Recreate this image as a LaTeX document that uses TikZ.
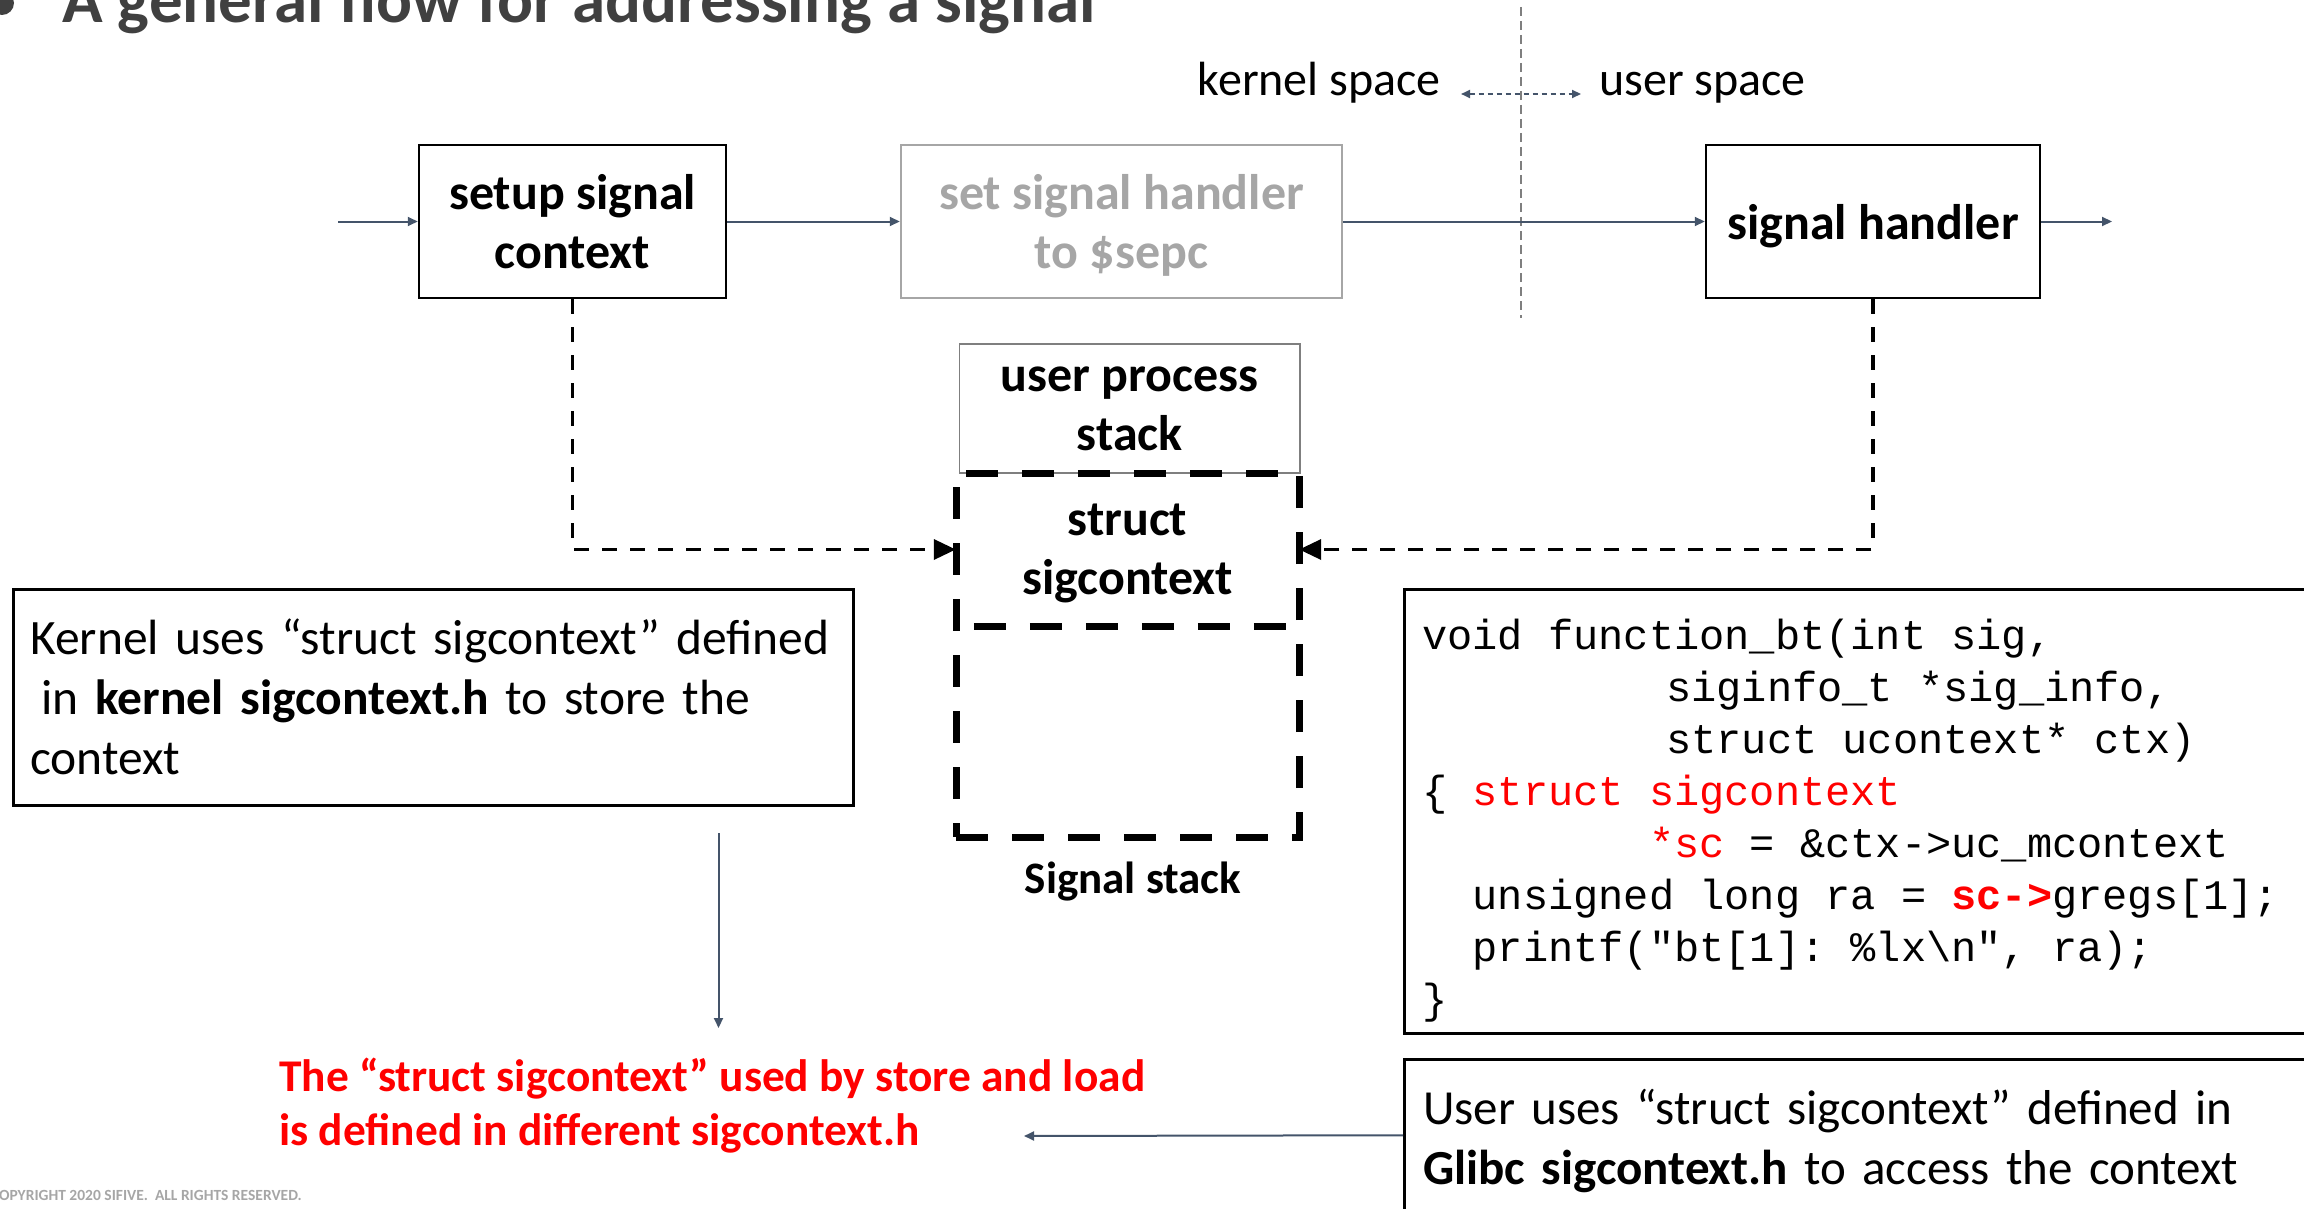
\documentclass[tikz,border=0pt]{standalone}
\usepackage{fontspec}
\setmainfont{Carlito}
\setmonofont{Liberation Mono}
\usetikzlibrary{arrows.meta}

\definecolor{conn}{HTML}{44546A}
\definecolor{titlegray}{HTML}{404040}
\definecolor{softgray}{HTML}{A6A6A6}
\definecolor{midgray}{HTML}{7F7F7F}
\definecolor{sigred}{HTML}{FF0000}

\newcommand\lblfont{\fontsize{50}{59}\selectfont\bfseries}
\newcommand\notefnt{\fontsize{49.5}{60}\selectfont}
\newcommand\usrfnt{\fontsize{49}{60}\selectfont}
\newcommand\codefnt{\fontsize{42}{52}\selectfont\ttfamily}
\newcommand\redfnt{\fontsize{45.4}{54.5}\selectfont\bfseries}
% one fixed-width blank in the code listing
\newcommand\csp{\hphantom{0}}

\tikzset{
  flow/.style={draw=conn, line width=2pt, -{Triangle[length=10pt,width=9pt]}},
  dconn/.style={draw=black, line width=3.5pt, dash pattern=on 15pt off 13pt,
    -{Triangle[length=22pt,width=20pt]}},
  blackbox/.style={draw=black, line width=2.5pt, inner sep=0pt, align=center, font=\lblfont},
  graybox/.style={draw=softgray, line width=2.5pt, inner sep=0pt, align=center, font=\lblfont, text=softgray},
  thickdash/.style={draw=black, line width=7pt, dash pattern=on 32pt off 24pt},
  notebox/.style={draw=black, line width=2.5pt, inner ysep=0pt, align=left, font=\notefnt},
  plainlbl/.style={font=\fontsize{48}{56}\selectfont, inner sep=0pt}
}

\begin{document}
\begin{tikzpicture}[x=1pt,y=-1pt]
\useasboundingbox (0,0) rectangle (2304,1209);

% heading with its bullet
\fill[titlegray] (2,3) circle[radius=12pt];
\node[anchor=base west, font=\fontsize{67}{70}\selectfont\bfseries, text=titlegray, inner sep=0pt]
  (title) at (62,23) {A general flow for addressing a signal};

% kernel / user space divider
\coordinate (divtop) at (1521,7);
\coordinate (divbot) at (1521,318);
\draw[midgray, line width=1.5pt, dash pattern=on 9pt off 5pt] (divtop) -- (divbot);
\node[plainlbl, anchor=base east] (kspace) at (1441,96) {kernel space};
\node[plainlbl, anchor=base west] (uspace) at (1599,96) {user space};
\draw[conn, line width=2pt, dash pattern=on 5pt off 4pt,
  {Triangle[length=9pt,width=8pt]}-{Triangle[length=9pt,width=8pt]}]
  ([xshift=20pt,yshift=2pt]kspace.base east) -- ([xshift=-18pt,yshift=2pt]uspace.base west);

% main flow
\node[blackbox, minimum width=307pt, minimum height=153pt, text depth=0pt] (setup) at (572.5,221.5) {setup signal\\context};
\node[graybox, minimum width=441pt, minimum height=153pt, text depth=0pt] (sethdl) at (1121.5,221.5) {set signal handler\\to \$sepc};
\node[blackbox, minimum width=334pt, minimum height=153pt, text depth=0pt] (sighdl) at (1873,221.5) {signal handler};

\coordinate (start) at (338,221.5);
\coordinate (finish) at (2112,221.5);
\draw[flow] (start) -- (setup);
\draw[flow] (setup) -- (sethdl);
\draw[flow] (sethdl) -- (sighdl);
\draw[flow] (sighdl) -- (finish);

% stacks
\node[draw=midgray, line width=1.8pt, minimum width=340.5pt, minimum height=129pt, inner sep=0pt,
  font=\lblfont, align=center] (uproc) at (1129.75,408.5) {user process\\stack};
\node[thickdash, minimum width=343pt, minimum height=364pt, inner sep=0pt] (sigstack) at (1127.5,655) {};
\node[minimum width=343pt, minimum height=153pt, inner sep=0pt, font=\lblfont, align=center, text depth=0pt]
  (sigctx) at (1127.5,549.5) {struct\\sigcontext};
\draw[thickdash] ([xshift=18pt]sigctx.south west) -- ([xshift=-12pt]sigctx.south east);
\node[font=\fontsize{45}{54}\selectfont\bfseries, inner sep=0pt] (sslbl) at (1133,882) {Signal stack};

\draw[dconn] (setup.south) |- (sigctx.west);
\draw[dconn] (sighdl.south) |- (sigctx.east);

% kernel side note
\node[notebox, anchor=north west, minimum width=840pt, minimum height=216pt, text width=806pt, inner xsep=17pt]
  (knote) at (12,588)
  {Kernel uses “struct sigcontext” defined\\\hspace*{0.226em}in \textbf{kernel sigcontext.h} to store the\\context};

\coordinate (kdowntop) at (718.5,833);
\coordinate (kdownbot) at (718.5,1028);
\draw[flow] (kdowntop) -- (kdownbot);

% conclusion
\node[anchor=west, font=\redfnt, text=sigred, align=left, inner sep=0pt] (rednote) at (279,1105.75)
  {The “struct sigcontext” used by store and load\\is defined in different sigcontext.h};

% user side code
\node[draw=black, line width=3pt, anchor=north west, minimum width=930pt, minimum height=443.5pt,
  inner sep=0pt] (code) at (1403,588) {};
\node[anchor=west, inner sep=0pt, align=left, font=\codefnt] (codetxt) at ([xshift=19pt,yshift=-9pt]code.west)
  {void\csp function\_bt(int\csp sig,\\
   \hspace*{244pt}siginfo\_t\csp *sig\_info,\\
   \hspace*{244pt}struct\csp ucontext*\csp ctx)\\
   \{\csp{\color{sigred}struct\csp sigcontext}\\
   \csp\csp\csp\csp\csp\csp\csp\csp\csp{\color{sigred}*sc}\csp=\csp\&ctx->uc\_mcontext\\
   \csp\csp unsigned\csp long\csp ra\csp=\csp{\color{sigred}\bfseries sc->}gregs[1];\\
   \csp\csp printf("bt[1]:\csp\%lx\textbackslash n",\csp ra);\\
   \}};

\node[notebox, font=\usrfnt, anchor=north west, minimum width=930pt, minimum height=163pt, text width=900pt, inner xsep=19pt]
  (unote) at (1403,1058)
  {User uses “struct sigcontext” defined in\\\textbf{Glibc sigcontext.h} to access the context};

\coordinate (redend) at (1024,1136);
\draw[flow] ([yshift=5.5pt]unote.west) -- (redend);

% footer
\node[anchor=base east, font=\fontsize{15.5}{17}\selectfont\bfseries, text=softgray, inner sep=0pt]
  (copyr) at (302,1200) {COPYRIGHT 2020 SIFIVE.\ \ ALL RIGHTS RESERVED.};
\end{tikzpicture}
\end{document}
